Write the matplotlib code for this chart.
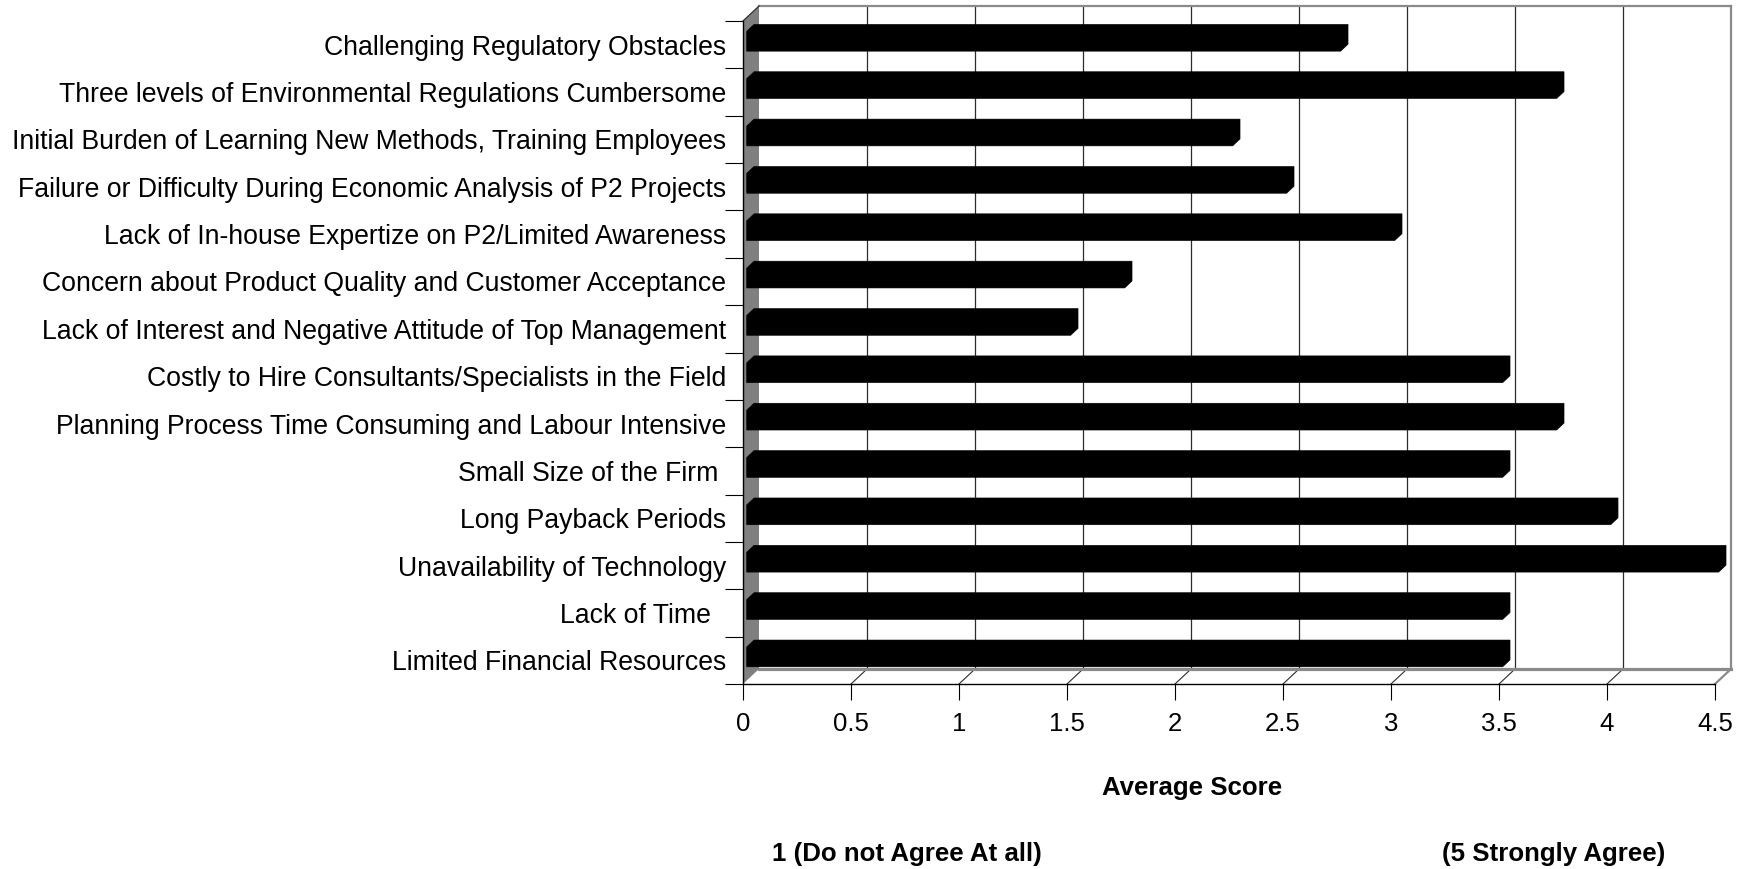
import numpy as np
import matplotlib
matplotlib.use('Agg')
import matplotlib.pyplot as plt
from matplotlib.patches import Polygon
from matplotlib.transforms import IdentityTransform

plt.rcParams['font.family'] = ['Liberation Sans', 'DejaVu Sans']

# survey barriers, listed top to bottom as they appear on the chart
BARRIERS = ['Challenging Regulatory Obstacles',
            'Three levels of Environmental Regulations Cumbersome',
            'Initial Burden of Learning New Methods, Training Employees',
            'Failure or Difficulty During Economic Analysis of P2 Projects',
            'Lack of In-house Expertize on P2/Limited Awareness',
            'Concern about Product Quality and Customer Acceptance',
            'Lack of Interest and Negative Attitude of Top Management',
            'Costly to Hire Consultants/Specialists in the Field',
            'Planning Process Time Consuming and Labour Intensive',
            'Small Size of the Firm ',
            'Long Payback Periods',
            'Unavailability of Technology',
            'Lack of Time  ',
            'Limited Financial Resources']
SCORES = [2.75, 3.75, 2.25, 2.5, 3.0, 1.75, 1.5, 3.5, 3.75, 3.5, 4.0, 4.5, 3.5, 3.5]
XTICKS = [0, 0.5, 1, 1.5, 2, 2.5, 3, 3.5, 4, 4.5]
XTICK_LABELS = ['0', '0.5', '1', '1.5', '2', '2.5', '3', '3.5', '4', '4.5']

W, H, DPI = 1752, 869, 100
DEPTH = (16, 15)          # wall depth in pixels (right, up)
BAR_F = (0.23, 0.69)      # front / back face of the bars as a share of the depth
BAR_H = 0.42
XMAX = 4.5

fig = plt.figure(figsize=(W / DPI, H / DPI), dpi=DPI)
ax = fig.add_axes([743 / W, 185 / H, 972 / W, 663 / H])
ax.set_xlim(0, XMAX)
ax.set_ylim(-0.5, len(BARRIERS) - 0.5)
ax.patch.set_visible(False)

ypos = np.arange(len(BARRIERS))[::-1]


def P(x, y, f):
    px, py = ax.transData.transform((x, y))
    return (px + DEPTH[0] * f, py + DEPTH[1] * f)


def poly(pts, **kw):
    p = Polygon(pts, closed=True, transform=IdentityTransform(), clip_on=False, **kw)
    ax.add_artist(p)
    return p


def line(a, b, **kw):
    ax.add_artist(plt.Line2D([a[0], b[0]], [a[1], b[1]], transform=IdentityTransform(),
                             clip_on=False, **kw))


y0, y1 = -0.5, len(BARRIERS) - 0.5
gray = '#8a8a8a'

# back wall and its grid
poly([P(0, y0, 1), P(XMAX, y0, 1), P(XMAX, y1, 1), P(0, y1, 1)], facecolor='white',
     edgecolor='none', zorder=0.5)
for v in XTICKS[1:-1]:
    line(P(v, y0, 1), P(v, y1, 1), color='#2c2c2c', lw=0.9, zorder=0.7)
    line(P(v, y0, 1), P(v, y0, 0), color='#2c2c2c', lw=0.8, zorder=0.7)
line(P(0, y1, 1), P(XMAX, y1, 1), color=gray, lw=1.6, zorder=0.8)
line(P(XMAX, y1, 1), P(XMAX, y0, 1), color=gray, lw=1.6, zorder=0.8)
line(P(0, y0, 1), P(XMAX, y0, 1), color=gray, lw=2.3, zorder=0.8)
line(P(XMAX, y0, 1), P(XMAX, y0, 0), color=gray, lw=1.6, zorder=0.8)

# left side wall
poly([P(0, y0, 0), P(0, y0, 1), P(0, y1, 1), P(0, y1, 0)], facecolor='#808080',
     edgecolor='none', zorder=0.9)
line(P(0, y1, 0), P(0, y1, 1), color='#303030', lw=0.9, zorder=0.95)

# bars as solid 3-D blocks
f1, f2 = BAR_F
for y, v in zip(ypos, SCORES):
    yb, yt = y - BAR_H / 2, y + BAR_H / 2
    poly([P(0, yb, f1), P(v, yb, f1), P(v, yb, f2), P(v, yt, f2), P(0, yt, f2), P(0, yt, f1)],
         facecolor='black', edgecolor='black', lw=0.4, zorder=2)

for side in ['top', 'right']:
    ax.spines[side].set_visible(False)
for side in ['left', 'bottom']:
    ax.spines[side].set_color('black')
    ax.spines[side].set_linewidth(1.0)
    ax.spines[side].set_zorder(3)

ax.set_yticks(np.arange(y0, y1 + 0.01, 1))
ax.set_yticks(ypos, BARRIERS, minor=True)
ax.tick_params(axis='y', which='major', length=13, width=0.8, labelleft=False)
ax.tick_params(axis='y', which='minor', length=0, pad=12.2, labelsize=19.2)
ax.set_xticks(XTICKS, XTICK_LABELS)
ax.tick_params(axis='x', which='major', length=11.5, width=0.8, pad=8.5, labelsize=18.5)

fig.text(1192 / W, 1 - 788 / H, 'Average Score', ha='center', va='center',
         fontsize=18.6, fontweight='bold')
fig.text(907 / W, 1 - 854 / H, '1 (Do not Agree At all)', ha='center', va='center',
         fontsize=18.6, fontweight='bold')
fig.text(1554 / W, 1 - 854 / H, '(5 Strongly Agree)', ha='center', va='center',
         fontsize=18.6, fontweight='bold')

fig.savefig('out.png', dpi=DPI, facecolor='white')
